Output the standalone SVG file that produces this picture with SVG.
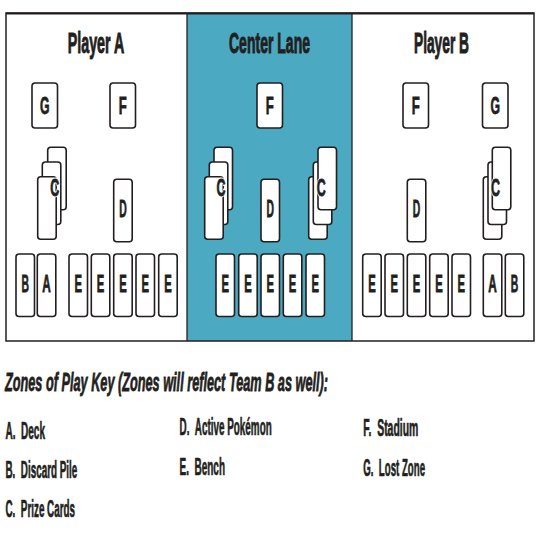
<svg xmlns="http://www.w3.org/2000/svg" width="540" height="540" viewBox="0 0 540 540">
<style>
.bg{fill:#fff}
.lane{fill:#4BA9C1}
.frame{fill:none;stroke:#231f20;stroke-width:1.5}
.sep{stroke:#231f20;stroke-width:1.3}
.card{fill:#fff;stroke:#231f20;stroke-width:1.6}
.t{font-family:"Liberation Sans",Arial,sans-serif;font-weight:bold;fill:#231f20}
.ttl{font-size:29px;text-anchor:middle;stroke:#231f20;stroke-width:1}
.L{font-size:23px;text-anchor:middle;stroke:#231f20;stroke-width:0.8}
.S{font-size:24px;text-anchor:middle;stroke:#231f20;stroke-width:0.8}
.Cbg{font-size:24px;text-anchor:middle;fill:#fff;stroke:#fff;stroke-width:3}
.C{font-size:24px;text-anchor:middle;stroke:#231f20;stroke-width:0.8}
.k{font-size:24px;stroke:#231f20;stroke-width:0.7}
.kt{font-size:25px;font-style:italic;stroke:#231f20;stroke-width:0.8}
</style>
<defs>
<rect id="tall" width="18.5" height="62.5" rx="3"/>
<rect id="small" width="25.5" height="45" rx="3"/>
</defs>
<rect class="bg" x="0" y="0" width="540" height="540"/>
<g id="board">
<rect class="lane" x="187" y="13" width="165" height="328"/>
<line class="sep" x1="187" y1="13" x2="187" y2="341"/>
<line class="sep" x1="352" y1="13" x2="352" y2="341"/>
<rect class="frame" x="6" y="13" width="528" height="328"/>
<line x1="6" y1="13.5" x2="534" y2="13.5" stroke="#231f20" stroke-width="2.2"/>
</g>
<g id="connectors"/>

<g id="title-player-a"><text class="t ttl" x="96" y="53" textLength="56.5" lengthAdjust="spacingAndGlyphs">Player A</text></g>
<g id="title-center-lane"><text class="t ttl" x="269.5" y="53" textLength="81" lengthAdjust="spacingAndGlyphs">Center Lane</text></g>
<g id="title-player-b"><text class="t ttl" x="441.5" y="53" textLength="55" lengthAdjust="spacingAndGlyphs">Player B</text></g>

<!-- Player A -->
<g id="a-lost-zone"><use href="#small" class="card" x="32" y="83"/><text class="t S" x="44.75" y="114" textLength="9.5" lengthAdjust="spacingAndGlyphs">G</text></g>
<g id="a-stadium"><use href="#small" class="card" x="110" y="83"/><text class="t S" x="122.75" y="114" textLength="8" lengthAdjust="spacingAndGlyphs">F</text></g>
<g id="a-prize">
<use href="#tall" class="card" x="47.7" y="147.3"/>
<use href="#tall" class="card" x="42.3" y="162"/>
<use href="#tall" class="card" x="37.7" y="176.7"/>
<text class="t Cbg" x="54.7" y="196" textLength="9" lengthAdjust="spacingAndGlyphs">C</text>
<text class="t C" x="54.7" y="196" textLength="9" lengthAdjust="spacingAndGlyphs">C</text>
</g>
<g id="a-active"><use href="#tall" class="card" x="113.7" y="179.3"/><text class="t L" x="122.95" y="217" textLength="7.5" lengthAdjust="spacingAndGlyphs">D</text></g>
<g id="a-discard"><use href="#tall" class="card" x="16" y="254"/><text class="t L" x="25.25" y="292" textLength="7.5" lengthAdjust="spacingAndGlyphs">B</text></g>
<g id="a-deck"><use href="#tall" class="card" x="37.3" y="254"/><text class="t L" x="46.55" y="292" textLength="8.5" lengthAdjust="spacingAndGlyphs">A</text></g>
<g id="a-bench">
<use href="#tall" class="card" x="69" y="254"/><text class="t L" x="78.25" y="292" textLength="7.5" lengthAdjust="spacingAndGlyphs">E</text>
<use href="#tall" class="card" x="91.3" y="254"/><text class="t L" x="100.55" y="292" textLength="7.5" lengthAdjust="spacingAndGlyphs">E</text>
<use href="#tall" class="card" x="113.7" y="254"/><text class="t L" x="122.95" y="292" textLength="7.5" lengthAdjust="spacingAndGlyphs">E</text>
<use href="#tall" class="card" x="136" y="254"/><text class="t L" x="145.25" y="292" textLength="7.5" lengthAdjust="spacingAndGlyphs">E</text>
<use href="#tall" class="card" x="158.7" y="254"/><text class="t L" x="167.95" y="292" textLength="7.5" lengthAdjust="spacingAndGlyphs">E</text>
</g>

<!-- Center Lane -->
<g id="c-stadium"><use href="#small" class="card" x="257" y="83"/><text class="t S" x="269.75" y="114" textLength="8" lengthAdjust="spacingAndGlyphs">F</text></g>
<g id="c-prize-left">
<use href="#tall" class="card" x="214" y="147.3"/>
<use href="#tall" class="card" x="209.3" y="162"/>
<use href="#tall" class="card" x="204.7" y="176.7"/>
<text class="t Cbg" x="221" y="196" textLength="9" lengthAdjust="spacingAndGlyphs">C</text>
<text class="t C" x="221" y="196" textLength="9" lengthAdjust="spacingAndGlyphs">C</text>
</g>
<g id="c-active"><use href="#tall" class="card" x="261" y="179.3"/><text class="t L" x="270.25" y="217" textLength="7.5" lengthAdjust="spacingAndGlyphs">D</text></g>
<g id="c-prize-right">
<use href="#tall" class="card" x="308.7" y="176.7"/>
<use href="#tall" class="card" x="313.3" y="162"/>
<use href="#tall" class="card" x="318" y="147.3"/>
<text class="t Cbg" x="321.3" y="196" textLength="9" lengthAdjust="spacingAndGlyphs">C</text>
<text class="t C" x="321.3" y="196" textLength="9" lengthAdjust="spacingAndGlyphs">C</text>
</g>
<g id="c-bench">
<use href="#tall" class="card" x="216" y="254"/><text class="t L" x="225.25" y="292" textLength="7.5" lengthAdjust="spacingAndGlyphs">E</text>
<use href="#tall" class="card" x="238.7" y="254"/><text class="t L" x="247.95" y="292" textLength="7.5" lengthAdjust="spacingAndGlyphs">E</text>
<use href="#tall" class="card" x="261" y="254"/><text class="t L" x="270.25" y="292" textLength="7.5" lengthAdjust="spacingAndGlyphs">E</text>
<use href="#tall" class="card" x="283.3" y="254"/><text class="t L" x="292.55" y="292" textLength="7.5" lengthAdjust="spacingAndGlyphs">E</text>
<use href="#tall" class="card" x="306" y="254"/><text class="t L" x="315.25" y="292" textLength="7.5" lengthAdjust="spacingAndGlyphs">E</text>
</g>

<!-- Player B -->
<g id="b-stadium"><use href="#small" class="card" x="403" y="83"/><text class="t S" x="415.75" y="114" textLength="8" lengthAdjust="spacingAndGlyphs">F</text></g>
<g id="b-lost-zone"><use href="#small" class="card" x="482.5" y="83"/><text class="t S" x="495.25" y="114" textLength="9.5" lengthAdjust="spacingAndGlyphs">G</text></g>
<g id="b-prize">
<use href="#tall" class="card" x="483.3" y="176.7"/>
<use href="#tall" class="card" x="488" y="162"/>
<use href="#tall" class="card" x="492.3" y="147.3"/>
<text class="t Cbg" x="495.5" y="196" textLength="9" lengthAdjust="spacingAndGlyphs">C</text>
<text class="t C" x="495.5" y="196" textLength="9" lengthAdjust="spacingAndGlyphs">C</text>
</g>
<g id="b-active"><use href="#tall" class="card" x="407.3" y="179.3"/><text class="t L" x="416.55" y="217" textLength="7.5" lengthAdjust="spacingAndGlyphs">D</text></g>
<g id="b-bench">
<use href="#tall" class="card" x="362.7" y="254"/><text class="t L" x="371.95" y="292" textLength="7.5" lengthAdjust="spacingAndGlyphs">E</text>
<use href="#tall" class="card" x="385" y="254"/><text class="t L" x="394.25" y="292" textLength="7.5" lengthAdjust="spacingAndGlyphs">E</text>
<use href="#tall" class="card" x="407.3" y="254"/><text class="t L" x="416.55" y="292" textLength="7.5" lengthAdjust="spacingAndGlyphs">E</text>
<use href="#tall" class="card" x="429.7" y="254"/><text class="t L" x="438.95" y="292" textLength="7.5" lengthAdjust="spacingAndGlyphs">E</text>
<use href="#tall" class="card" x="452" y="254"/><text class="t L" x="461.25" y="292" textLength="7.5" lengthAdjust="spacingAndGlyphs">E</text>
</g>
<g id="b-deck"><use href="#tall" class="card" x="483.3" y="254"/><text class="t L" x="492.55" y="292" textLength="8.5" lengthAdjust="spacingAndGlyphs">A</text></g>
<g id="b-discard"><use href="#tall" class="card" x="505.3" y="254"/><text class="t L" x="514.55" y="292" textLength="7.5" lengthAdjust="spacingAndGlyphs">B</text></g>

<!-- Key -->
<g id="key">
<text class="t kt" x="5" y="391" textLength="323" lengthAdjust="spacingAndGlyphs">Zones of Play Key (Zones will reflect Team B as well):</text>
<text class="t k" x="5.5" y="439.3" textLength="39.5" lengthAdjust="spacingAndGlyphs">A.&#160;&#160;Deck</text>
<text class="t k" x="5.5" y="478.3" textLength="71.8" lengthAdjust="spacingAndGlyphs">B.&#160;&#160;Discard Pile</text>
<text class="t k" x="5.5" y="517.3" textLength="69.5" lengthAdjust="spacingAndGlyphs">C.&#160;&#160;Prize Cards</text>
<text class="t k" x="179.5" y="435" textLength="92.2" lengthAdjust="spacingAndGlyphs">D.&#160;&#160;Active Pokémon</text>
<text class="t k" x="179.5" y="475" textLength="45.5" lengthAdjust="spacingAndGlyphs">E.&#160;&#160;Bench</text>
<text class="t k" x="363.3" y="436" textLength="55" lengthAdjust="spacingAndGlyphs">F.&#160;&#160;Stadium</text>
<text class="t k" x="363.3" y="476" textLength="61.7" lengthAdjust="spacingAndGlyphs">G.&#160;&#160;Lost Zone</text>
</g>
</svg>
